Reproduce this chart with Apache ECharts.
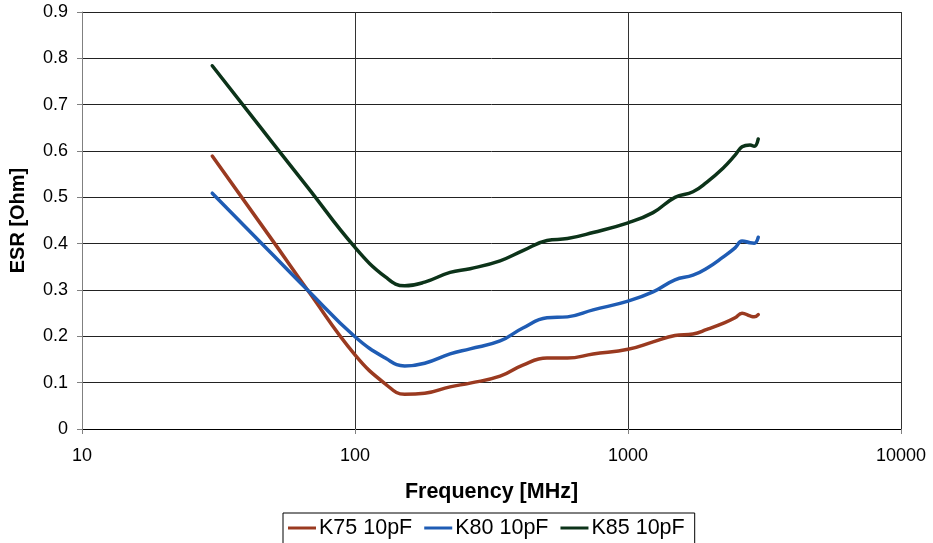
<!DOCTYPE html>
<html>
<head>
<meta charset="utf-8">
<script src="https://cdn.jsdelivr.net/npm/echarts@6/dist/echarts.min.js"></script>
<style>
  html, body { margin: 0; padding: 0; background: #fff; }
  #chart { width: 933px; height: 543px; }
</style>
</head>
<body>
<div id="chart"></div>
<script>
// Measurement frequencies (MHz)
const freqMHz = [30, 50, 67, 100, 130, 152, 180, 223, 264, 340, 412, 505, 600, 745,
                 1000, 1235, 1486, 1730, 1946, 2228, 2467, 2617, 2800, 2900, 3000];

// ESR values (Ohm) per capacitor type
const esrK75 = [0.589, 0.406, 0.300, 0.160, 0.096, 0.075, 0.077, 0.091, 0.099, 0.114, 0.138, 0.153, 0.153, 0.162,
                0.172, 0.188, 0.202, 0.205, 0.215, 0.228, 0.240, 0.250, 0.244, 0.242, 0.247];
const esrK80 = [0.509, 0.376, 0.300, 0.199, 0.152, 0.136, 0.142, 0.162, 0.173, 0.190, 0.218, 0.240, 0.242, 0.257,
                0.276, 0.296, 0.322, 0.332, 0.347, 0.371, 0.391, 0.406, 0.402, 0.401, 0.414];
const esrK85 = [0.784, 0.617, 0.522, 0.392, 0.327, 0.309, 0.317, 0.338, 0.346, 0.363, 0.385, 0.407, 0.411, 0.424,
                0.445, 0.467, 0.500, 0.512, 0.533, 0.563, 0.591, 0.609, 0.613, 0.610, 0.626];

const seriesNames = ['K75 10pF', 'K80 10pF', 'K85 10pF'];
const seriesColors = ['#9a3a20', '#1f5cb4', '#0c3319'];

const xTicks = [10, 100, 1000, 10000];
const yTicks = [0, 0.1, 0.2, 0.3, 0.4, 0.5, 0.6, 0.7, 0.8, 0.9];

const FONT = '"Liberation Sans", Arial, Helvetica, sans-serif';

function pairs(values) {
  return freqMHz.map((f, i) => [f, values[i]]);
}

const chart = echarts.init(document.getElementById('chart'), null, { renderer: 'canvas' });

chart.setOption({
  animation: false,
  backgroundColor: '#fff',
  textStyle: { fontFamily: FONT },
  grid: { left: 82, right: 32, top: 12, bottom: 114, containLabel: false, outerBoundsMode: 'none' },
  legend: {
    data: seriesNames,
    left: 283,
    top: 513,
    orient: 'horizontal',
    icon: 'rect',
    itemWidth: 28,
    itemHeight: 3,
    itemGap: 12,
    padding: [4, 10, 5, 5],
    borderColor: '#000',
    borderWidth: 1,
    textStyle: { fontFamily: FONT, fontSize: 21.5, color: '#000', padding: [0, 0, 0, -2] }
  },
  xAxis: {
    type: 'log',
    logBase: 10,
    min: xTicks[0],
    max: xTicks[xTicks.length - 1],
    name: 'Frequency [MHz]',
    nameLocation: 'middle',
    nameGap: 52,
    nameTextStyle: { fontFamily: FONT, fontSize: 21.5, fontWeight: 'bold', color: '#000' },
    axisLine: { show: true, lineStyle: { color: '#000', width: 1 } },
    axisTick: { show: true, inside: false, length: 5, lineStyle: { color: '#808080' } },
    minorTick: { show: false },
    axisLabel: {
      fontFamily: FONT, fontSize: 18, color: '#000', margin: 18,
      formatter: v => String(Math.round(v))
    },
    splitLine: { show: true, lineStyle: { color: '#333', width: 1 } }
  },
  yAxis: {
    type: 'value',
    min: yTicks[0],
    max: yTicks[yTicks.length - 1],
    interval: 0.1,
    name: 'ESR [Ohm]',
    nameLocation: 'middle',
    nameGap: 54,
    nameRotate: 90,
    nameTextStyle: { fontFamily: FONT, fontSize: 20, fontWeight: 'bold', color: '#000' },
    axisLine: { show: true, lineStyle: { color: '#808080', width: 1 } },
    axisTick: { show: true, inside: false, length: 5, lineStyle: { color: '#808080' } },
    axisLabel: {
      fontFamily: FONT, fontSize: 18, color: '#000', margin: 14,
      formatter: v => (Math.round(v * 10) / 10).toString()
    },
    splitLine: { show: true, lineStyle: { color: '#222', width: 1 } }
  },
  series: [esrK75, esrK80, esrK85].map((vals, i) => ({
    name: seriesNames[i],
    type: 'line',
    data: pairs(vals),
    smooth: 0.45,
    symbol: 'none',
    lineStyle: { color: seriesColors[i], width: 3.5, cap: 'round', join: 'round' },
    itemStyle: { color: seriesColors[i] },
    z: 3 + i
  }))
});
</script>
</body>
</html>
